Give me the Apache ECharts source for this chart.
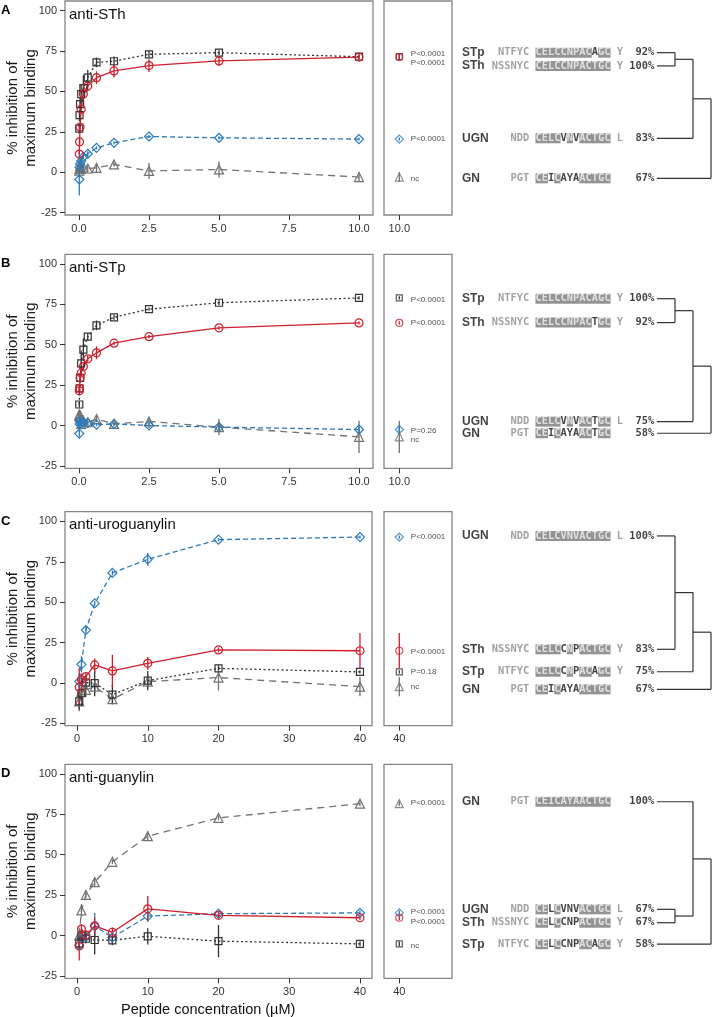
<!DOCTYPE html>
<html><head><meta charset="utf-8">
<script src="https://cdn.jsdelivr.net/npm/echarts@6/dist/echarts.min.js"></script>
<style>html,body{margin:0;padding:0;background:#fff}#c{width:712px;height:1017px}</style>
</head><body><div id="c"></div>
<script>
// ---------------- DATA ----------------
const X_LOW = [10, 5, 2.5, 1.25, 0.625, 0.3125, 0.15625, 0.078125, 0.0390625, 0.01953125, 0.009765625];
const X_HIGH = [40, 20, 10, 5, 2.5, 1.25, 0.625, 0.3125];
const X_TICKS_LOW = [0, 2.5, 5, 7.5, 10];
const X_TICKS_HIGH = [0, 10, 20, 30, 40];
const Y_TICKS = [-25, 0, 25, 50, 75, 100];
const PEPTIDES = ['GN', 'UGN', 'STp', 'STh'];

// Panel A: anti-STh
const A_STh = [71.3, 68.9, 66.0, 62.7, 58.5, 53.3, 48.4, 39.0, 28.0, 18.8, 11.2];
const A_STh_sd = [1.5, 3, 4, 4, 4, 3, 3, 3, 2, 2, 2];
const A_STp = [71.5, 74.0, 73.0, 68.7, 68.0, 58.5, 52.0, 48.4, 42.2, 35.4, 27.0];
const A_STp_sd = [1.5, 1.5, 2, 3, 3, 5, 8, 6, 4, 3, 3];
const A_UGN = [20.5, 21.3, 22.1, 18.2, 15.1, 11.4, 9.5, 7.0, 5.0, 3.0, -4.5];
const A_UGN_sd = [1, 1, 1, 1, 1, 1.5, 1.5, 2, 2, 2, 10];
const A_GN = [-3.0, 1.7, 0.8, 4.8, 2.7, 2.3, 3.0, 2.0, 4.0, 2.0, 1.0];
const A_GN_sd = [3, 5, 5, 1.5, 3, 2, 3, 3, 4, 3, 3];
const A_P_TEXT = ['P<0.0001', 'P<0.0001', 'P<0.0001', 'nc'];
const A_P_Y = [73.6, 68.0, 20.7, -3.8];
const A_ROWS = ['STp', 'STh', 'UGN', 'GN'];
const A_ROW_Y = [74.0, 65.8, 21.0, -3.8];
const A_PCT = ['92%', '100%', '83%', '67%'];
const A_MERGE = ['STp', 'STh', 'UGN', 'GN'];

// Panel B: anti-STp
const B_STh = [63.5, 60.5, 55.0, 51.0, 45.0, 41.3, 36.5, 32.5, 29.5, 23.0, 21.5];
const B_STh_sd = [1, 1, 1, 1, 4, 2, 2, 2, 2, 2, 2];
const B_STp = [79.0, 76.0, 72.0, 67.0, 62.0, 55.0, 47.0, 38.5, 29.5, 23.0, 13.0];
const B_STp_sd = [1, 1.5, 1, 1.5, 3, 2, 7, 8, 3, 2, 2];
const B_UGN = [-2.5, -1.0, 0.0, 1.0, 0.5, 1.5, 2.0, 1.0, 3.0, 1.0, -5.0];
const B_UGN_sd = [2, 2, 1.5, 1, 1, 1, 1, 1, 2, 2, 2];
const B_GN = [-7.0, -1.0, 2.5, 1.0, 4.0, 2.0, 3.0, 1.0, 5.0, 7.0, 6.0];
const B_GN_sd = [10, 5, 2, 1.5, 2, 2, 2, 2, 2, 2, 2];
const B_P_TEXT = ['P<0.0001', 'P<0.0001', 'P=0.26', 'nc'];
const B_P_Y = [78.1, 63.3, -3.4, -9.0];
const B_ROWS = ['STp', 'STh', 'UGN', 'GN'];
const B_ROW_Y = [78.5, 63.7, 2.4, -4.8];
const B_PCT = ['100%', '92%', '75%', '58%'];
const B_MERGE = ['STp', 'STh', 'UGN', 'GN'];

// Panel C: anti-uroguanylin
const C_STh = [19.9, 20.4, 12.1, 7.4, 11.1, 3.9, 1.9, -2.7];
const C_STh_sd = [11, 1.5, 4, 10, 4, 2, 4, 12];
const C_STp = [6.8, 9.0, 1.4, -7.3, -0.2, 0.2, -6.4, -11.5];
const C_STp_sd = [1, 1, 6, 6, 8, 4, 8, 5];
const C_UGN = [90.3, 88.7, 76.5, 68.1, 49.2, 32.7, 11.5, 0.8];
const C_UGN_sd = [1, 1, 4, 1.5, 1.5, 2, 5, 5];
const C_GN = [-2.3, 3.3, 0.8, -10.1, -2.3, -4.3, -5.4, -11.5];
const C_GN_sd = [6, 8, 4, 3, 4, 4, 6, 6];
const C_P_TEXT = ['P<0.0001', 'P<0.0001', 'P=0.18', 'nc'];
const C_P_Y = [90.5, 19.3, 6.6, -2.4];
const C_ROWS = ['UGN', 'STh', 'STp', 'GN'];
const C_ROW_Y = [91.0, 20.8, 6.9, -4.0];
const C_PCT = ['100%', '83%', '75%', '67%'];
const C_MERGE = ['UGN', 'STh', 'STp', 'GN'];

// Panel D: anti-guanylin
const D_STh = [11.0, 12.5, 16.5, 2.0, 6.0, 0.2, 4.0, -6.5];
const D_STh_sd = [1.5, 2, 8, 3, 5, 3, 3, 9];
const D_STp = [-5.2, -3.5, -0.5, -3.0, -2.8, -2.0, 0.0, -5.0];
const D_STp_sd = [1.5, 10, 5, 3, 9, 3, 3, 3];
const D_UGN = [14.0, 13.5, 12.0, -1.2, 5.9, -1.0, -1.9, -6.0];
const D_UGN_sd = [1.5, 1.5, 3, 4, 8, 3, 3, 3];
const D_GN = [81.6, 72.8, 61.5, 45.6, 33.0, 25.2, 15.5, 0.0];
const D_GN_sd = [1.5, 1.5, 3, 1.5, 3, 2, 4, 5];
const D_P_TEXT = ['P<0.0001', 'P<0.0001', 'P<0.0001', 'nc'];
const D_P_Y = [81.9, 14.7, 8.2, -6.3];
const D_ROWS = ['GN', 'UGN', 'STh', 'STp'];
const D_ROW_Y = [82.8, 16.2, 7.9, -5.4];
const D_PCT = ['100%', '67%', '67%', '58%'];
const D_MERGE = ['UGN', 'STh', 'GN', 'STp'];

// Peptide sequences
const SEQ_PRE = {STp: 'NTFYC', STh: 'NSSNYC', UGN: 'NDD', GN: 'PGT'};
const SEQ_CORE = {STp: 'CELCCNPACAGC', STh: 'CELCCNPACTGC', UGN: 'CELCVNVACTGC', GN: 'CEICAYAACTGC'};
const SEQ_SUF = {STp: 'Y', STh: 'Y', UGN: 'L', GN: ''};

// ---------------- STYLE / LAYOUT ----------------
const STYLE = {
  STh: {color: '#cf1f2d', symbol: 'circle', size: 8, dash: 'solid'},
  STp: {color: '#333333', symbol: 'rect', size: 7, dash: [2, 2.5]},
  UGN: {color: '#2b7bbb', symbol: 'diamond', size: 9, dash: [5, 3]},
  GN:  {color: '#727272', symbol: 'triangle', size: 9, dash: [7, 5]}
};
const panels = [
  {letter: 'A', title: 'anti-STh', x: X_LOW, ticks: X_TICKS_LOW, dec: 1, xMin: -0.5, xMax: 10.5, w: 308,
   means: {STh: A_STh, STp: A_STp, UGN: A_UGN, GN: A_GN}, sds: {STh: A_STh_sd, STp: A_STp_sd, UGN: A_UGN_sd, GN: A_GN_sd},
   pText: A_P_TEXT, pY: A_P_Y, rows: A_ROWS, rowY: A_ROW_Y, pct: A_PCT, ref: 'STh', merge: A_MERGE},
  {letter: 'B', title: 'anti-STp', x: X_LOW, ticks: X_TICKS_LOW, dec: 1, xMin: -0.5, xMax: 10.5, w: 308,
   means: {STh: B_STh, STp: B_STp, UGN: B_UGN, GN: B_GN}, sds: {STh: B_STh_sd, STp: B_STp_sd, UGN: B_UGN_sd, GN: B_GN_sd},
   pText: B_P_TEXT, pY: B_P_Y, rows: B_ROWS, rowY: B_ROW_Y, pct: B_PCT, ref: 'STp', merge: B_MERGE},
  {letter: 'C', title: 'anti-uroguanylin', x: X_HIGH, ticks: X_TICKS_HIGH, dec: 0, xMin: -1.7, xMax: 41.7, w: 307,
   means: {STh: C_STh, STp: C_STp, UGN: C_UGN, GN: C_GN}, sds: {STh: C_STh_sd, STp: C_STp_sd, UGN: C_UGN_sd, GN: C_GN_sd},
   pText: C_P_TEXT, pY: C_P_Y, rows: C_ROWS, rowY: C_ROW_Y, pct: C_PCT, ref: 'UGN', merge: C_MERGE},
  {letter: 'D', title: 'anti-guanylin', x: X_HIGH, ticks: X_TICKS_HIGH, dec: 0, xMin: -1.7, xMax: 41.7, w: 307,
   means: {STh: D_STh, STp: D_STp, UGN: D_UGN, GN: D_GN}, sds: {STh: D_STh_sd, STp: D_STp_sd, UGN: D_UGN_sd, GN: D_GN_sd},
   pText: D_P_TEXT, pY: D_P_Y, rows: D_ROWS, rowY: D_ROW_Y, pct: D_PCT, ref: 'GN', merge: D_MERGE}
];
const GRID_TOPS = [1, 254.3, 511.7, 764.3];
const GRID_H = 214, Y_MIN = -26.5, Y_MAX = 106;
const SANS = 'Liberation Sans, Arial, sans-serif';
const MONO = 'DejaVu Sans Mono, monospace';

function seqRich(pep, refPep, pct) {
  const core = SEQ_CORE[pep], ref = SEQ_CORE[refPep];
  let out = '{g|' + SEQ_PRE[pep].padStart(6, ' ') + ' }';
  let cur = null, buf = '';
  for (let k = 0; k < core.length; k++) {
    const m = core[k] === ref[k] ? 'h' : 'n';
    if (m !== cur) { if (buf) out += '{' + cur + '|' + buf + '}'; cur = m; buf = ''; }
    buf += core[k];
  }
  out += '{' + cur + '|' + buf + '}';
  out += '{g| ' + (SEQ_SUF[pep] || ' ') + ' }{p|' + pct.padStart(4, ' ') + '}';
  return out;
}
const monoBase = {fontFamily: MONO, fontWeight: 'bold', fontSize: 10.4, lineHeight: 9};
const RICH = {
  g: Object.assign({}, monoBase, {color: '#8a8a8a'}),
  h: Object.assign({}, monoBase, {color: '#f4f4f4', backgroundColor: '#787878'}),
  n: Object.assign({}, monoBase, {color: '#111'}),
  p: Object.assign({}, monoBase, {color: '#111'})
};

function errBarSeries(xi, yi, data, color) {
  return {
    type: 'custom', xAxisIndex: xi, yAxisIndex: yi, data: data, z: 3, silent: true,
    encode: {x: 0, y: 1},
    renderItem: function (params, api) {
      const x = api.value(0), y = api.value(1), e = api.value(2);
      const p1 = api.coord([x, y - e]), p2 = api.coord([x, y + e]);
      return {type: 'line', shape: {x1: p1[0], y1: p1[1], x2: p2[0], y2: p2[1]},
        style: {stroke: color, lineWidth: 1.3}};
    }
  };
}

const grids = [], xAxes = [], yAxes = [], series = [], titles = [];
const hiddenX = (gi, min, max) => ({gridIndex: gi, type: 'value', min: min, max: max, show: false});
const hiddenY = (gi) => ({gridIndex: gi, type: 'value', min: Y_MIN, max: Y_MAX, show: false});
const TICK = {show: true, length: 5, lineStyle: {color: '#333', width: 1}};

panels.forEach(function (P, p) {
  const top = GRID_TOPS[p];
  const g0 = grids.length;
  const xmax = P.x[0];
  // main grid
  grids.push({left: 65, top: top, width: P.w, height: GRID_H, show: true, borderColor: '#858585', borderWidth: 1.3});
  xAxes.push({gridIndex: g0, type: 'value', min: P.xMin, max: P.xMax, position: 'bottom',
    axisLine: {show: false, onZero: false}, splitLine: {show: false},
    axisTick: Object.assign({customValues: P.ticks}, TICK),
    axisLabel: {customValues: P.ticks, color: '#333', fontSize: 11, margin: 8, fontFamily: SANS,
      formatter: v => Number(v).toFixed(P.dec)}});
  yAxes.push({gridIndex: g0, type: 'value', min: Y_MIN, max: Y_MAX, position: 'left',
    axisLine: {show: false, onZero: false}, splitLine: {show: false},
    axisTick: Object.assign({customValues: Y_TICKS}, TICK),
    axisLabel: {customValues: Y_TICKS, color: '#333', fontSize: 11, margin: 8, fontFamily: SANS},
    name: '% inhibition of\nmaximum binding', nameLocation: 'middle', nameGap: 25, nameMoveOverlap: false,
    nameTextStyle: {fontSize: 15, lineHeight: 18, color: '#1a1a1a', fontFamily: SANS}});
  // side grid
  const span = xmax * 0.2222, sMin = xmax - 0.225 * span;
  grids.push({left: 384, top: top, width: 68, height: GRID_H, show: true, borderColor: '#858585', borderWidth: 1.3});
  xAxes.push({gridIndex: g0 + 1, type: 'value', min: sMin, max: sMin + span, position: 'bottom',
    axisLine: {show: false, onZero: false}, splitLine: {show: false},
    axisTick: Object.assign({customValues: [xmax]}, TICK),
    axisLabel: {customValues: [xmax], color: '#333', fontSize: 11, margin: 8, fontFamily: SANS,
      formatter: v => Number(v).toFixed(P.dec)}});
  yAxes.push(hiddenY(g0 + 1));
  // text grid
  grids.push({left: 455, top: top, width: 202, height: GRID_H});
  xAxes.push(hiddenX(g0 + 2, 0, 1));
  yAxes.push(hiddenY(g0 + 2));
  // dendrogram grid
  grids.push({left: 657, top: top, width: 55, height: GRID_H});
  xAxes.push(hiddenX(g0 + 3, 0, 55 / 18));
  yAxes.push(hiddenY(g0 + 3));

  // curves
  PEPTIDES.forEach(function (pep) {
    const st = STYLE[pep], m = P.means[pep], sd = P.sds[pep];
    series.push(errBarSeries(g0, g0, P.x.map((x, i) => [x, m[i], sd[i]]), st.color));
    series.push({type: 'line', xAxisIndex: g0, yAxisIndex: g0, silent: true, z: 4,
      data: P.x.map((x, i) => [x, m[i]]), symbol: st.symbol, symbolSize: st.size, showAllSymbol: true,
      lineStyle: {color: st.color, width: 1.3, type: st.dash},
      itemStyle: {color: 'rgba(255,255,255,0)', borderColor: st.color, borderWidth: 1.2}});
    // side panel: value at highest concentration
    series.push(errBarSeries(g0 + 1, g0 + 1, [[xmax, m[0], sd[0]]], st.color));
    series.push({type: 'scatter', xAxisIndex: g0 + 1, yAxisIndex: g0 + 1, silent: true, z: 4,
      data: [[xmax, m[0]]], symbol: st.symbol, symbolSize: st.size - 1,
      itemStyle: {color: 'rgba(255,255,255,0)', borderColor: st.color, borderWidth: 1.2}});
  });
  // p-value labels
  series.push({type: 'scatter', xAxisIndex: g0 + 1, yAxisIndex: g0 + 1, silent: true, z: 5,
    data: P.pY.map(y => [xmax, y]), symbolSize: 1, itemStyle: {color: 'rgba(0,0,0,0)'},
    label: {show: true, position: 'right', distance: 11, fontSize: 8, color: '#222', fontFamily: SANS,
      formatter: prm => P.pText[prm.dataIndex]}});
  // alignment names
  series.push({type: 'scatter', xAxisIndex: g0 + 2, yAxisIndex: g0 + 2, silent: true,
    data: P.rowY.map(y => [0, y]), symbolSize: 1, itemStyle: {color: 'rgba(0,0,0,0)'},
    label: {show: true, position: 'right', distance: 6.5, fontSize: 12, fontWeight: 'bold', color: '#111', fontFamily: SANS,
      formatter: prm => P.rows[prm.dataIndex]}});
  // alignment sequences
  series.push({type: 'scatter', xAxisIndex: g0 + 2, yAxisIndex: g0 + 2, silent: true,
    data: P.rowY.map(y => [0, y]), symbolSize: 1, itemStyle: {color: 'rgba(0,0,0,0)'},
    label: {show: true, position: 'right', distance: 36.2, rich: RICH,
      formatter: prm => seqRich(P.rows[prm.dataIndex], P.ref, P.pct[prm.dataIndex])}});
  // dendrogram (ladder: first two leaves join at level 1, third at 2, fourth at 3)
  const yOf = name => P.rowY[P.rows.indexOf(name)];
  const [a, b, c, d] = P.merge.map(yOf);
  const n1 = (a + b) / 2, n2 = (n1 + c) / 2;
  const segs = [
    [0, a, 1, a], [0, b, 1, b], [1, a, 1, b],
    [1, n1, 2, n1], [0, c, 2, c], [2, n1, 2, c],
    [2, n2, 3, n2], [0, d, 3, d], [3, n2, 3, d]
  ];
  series.push({type: 'custom', xAxisIndex: g0 + 3, yAxisIndex: g0 + 3, silent: true, data: segs,
    encode: {x: [0, 2], y: [1, 3]},
    renderItem: function (params, api) {
      const p1 = api.coord([api.value(0), api.value(1)]), p2 = api.coord([api.value(2), api.value(3)]);
      return {type: 'line', shape: {x1: p1[0], y1: p1[1], x2: p2[0], y2: p2[1]},
        style: {stroke: '#333', lineWidth: 1.2}};
    }});

  titles.push({text: P.letter, left: 1, top: top + 3, padding: 0,
    textStyle: {fontSize: 13, fontWeight: 'bold', color: '#000', fontFamily: SANS}});
  titles.push({text: P.title, left: 69, top: top + 6, padding: 0,
    textStyle: {fontSize: 15, fontWeight: 'normal', color: '#111', fontFamily: SANS}});
});
titles.push({text: 'Peptide concentration (µM)', left: 121, top: 1002, padding: 0,
  textStyle: {fontSize: 14.5, fontWeight: 'normal', color: '#111', fontFamily: SANS}});

const chart = echarts.init(document.getElementById('c'));
chart.setOption({
  animation: false,
  backgroundColor: '#fff',
  title: titles,
  grid: grids,
  xAxis: xAxes,
  yAxis: yAxes,
  series: series
});
</script>
</body></html>
